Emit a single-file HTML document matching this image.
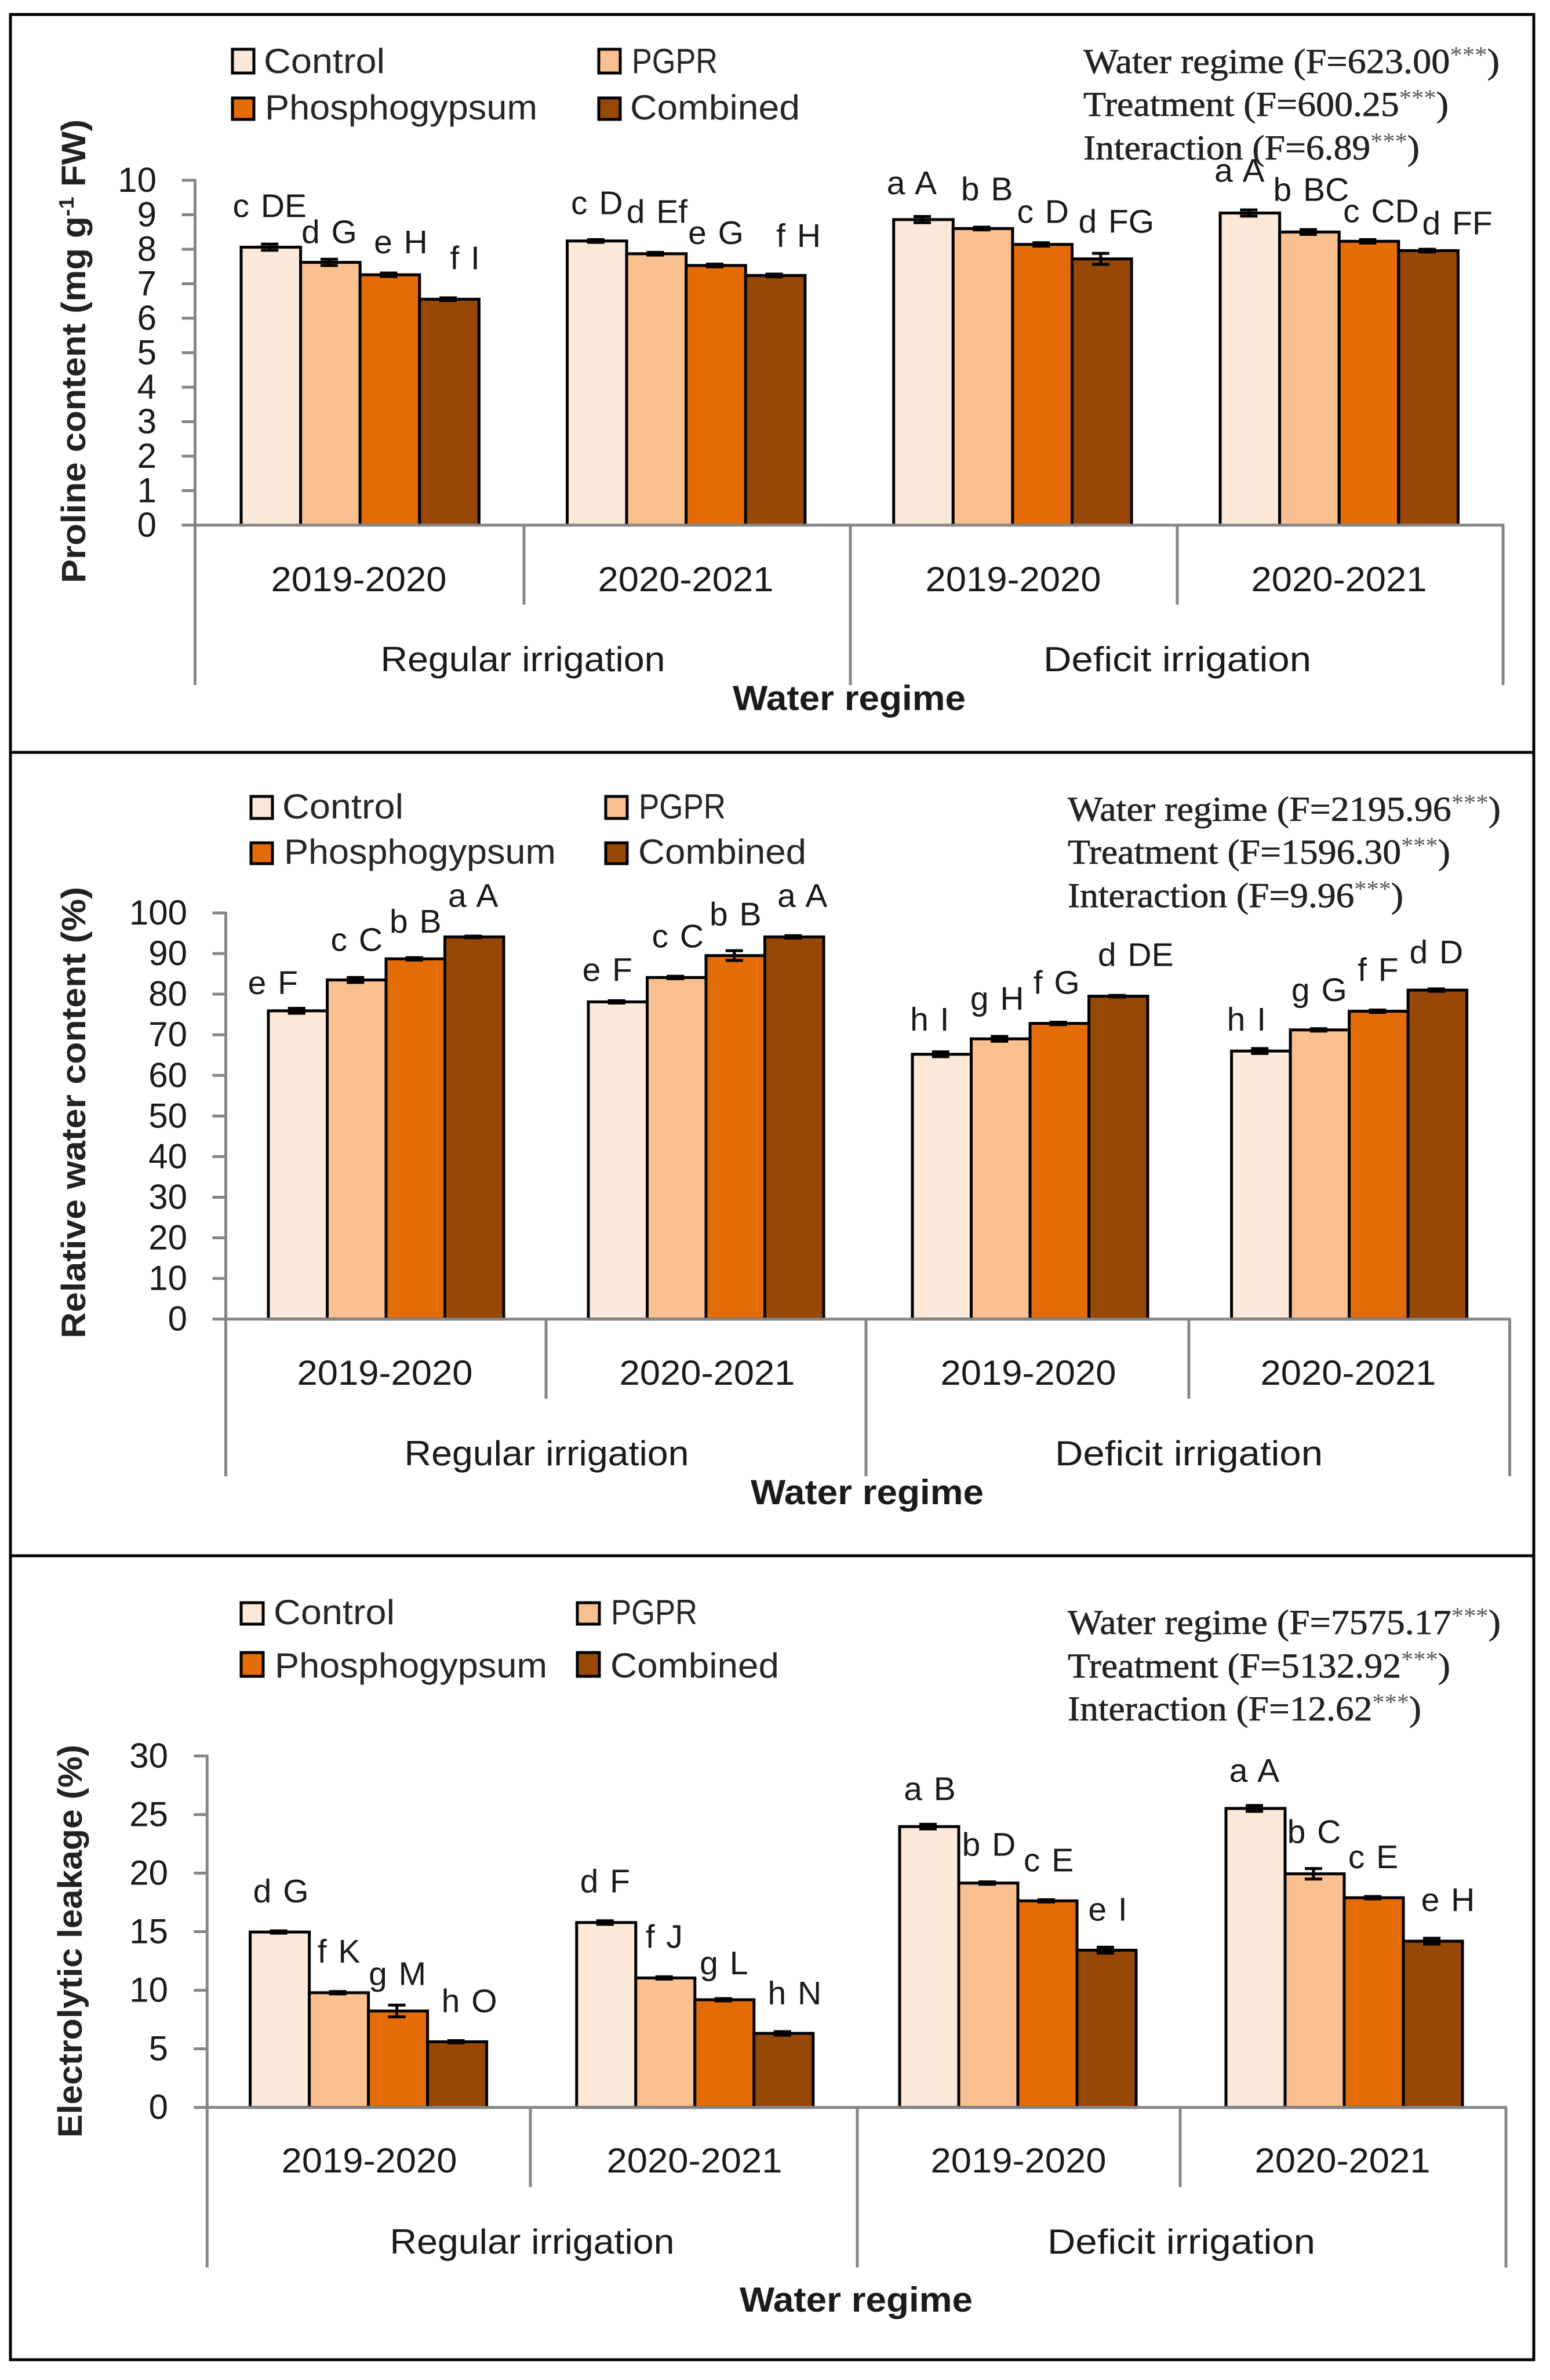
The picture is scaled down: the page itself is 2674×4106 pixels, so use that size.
<!DOCTYPE html>
<html lang="en">
<head>
<meta charset="utf-8">
<title>Proline content, relative water content and electrolytic leakage</title>
<style>
html,body{margin:0;padding:0;background:#fff;}
svg{display:block;}
text{font-family:"Liberation Sans",sans-serif;fill:#1a1a1a;}
.serif{font-family:"Liberation Serif",serif;font-size:60px;fill:#222;stroke:#222;stroke-width:0.7px;}
.sup{font-size:40px;fill:#555;stroke:none;}
.leg{font-size:60px;fill:#262626;}
.cat{font-size:60px;}
.ttl{font-size:60px;font-weight:bold;}
.ytl{font-size:58px;font-weight:bold;fill:#222;}
</style>
</head>
<body>
<svg id="figure" xmlns="http://www.w3.org/2000/svg" width="2674" height="4106" viewBox="0 0 2674 4106">
<rect x="0" y="0" width="2674" height="4106" fill="#fff"/>
<rect x="18" y="25" width="2628" height="4046" fill="none" stroke="#000" stroke-width="5"/>
<line x1="18" x2="2646" y1="1298" y2="1298" stroke="#000" stroke-width="5"/>
<line x1="18" x2="2646" y1="2684" y2="2684" stroke="#000" stroke-width="5"/>

<!-- Panel 1 -->
<g>
<g>
<rect x="401" y="85" width="37" height="41" fill="#FDE9D9" stroke="#000" stroke-width="5"/>
<text class="leg" x="455" y="126" textLength="209" lengthAdjust="spacingAndGlyphs">Control</text>
<rect x="1033" y="85" width="37" height="41" fill="#FAC090" stroke="#000" stroke-width="5"/>
<text class="leg" x="1090" y="126" textLength="148" lengthAdjust="spacingAndGlyphs">PGPR</text>
<rect x="401" y="169" width="37" height="37" fill="#E36C09" stroke="#000" stroke-width="5"/>
<text class="leg" x="457" y="206" textLength="470" lengthAdjust="spacingAndGlyphs">Phosphogypsum</text>
<rect x="1033" y="169" width="37" height="37" fill="#974806" stroke="#000" stroke-width="5"/>
<text class="leg" x="1087" y="206" textLength="293" lengthAdjust="spacingAndGlyphs">Combined</text>
</g>
<g>
<text class="serif" x="1869" y="126" textLength="718" lengthAdjust="spacingAndGlyphs">Water regime (F=623.00<tspan class="sup" dy="-18">***</tspan><tspan dy="18">)</tspan></text>
<text class="serif" x="1869" y="200" textLength="630" lengthAdjust="spacingAndGlyphs">Treatment (F=600.25<tspan class="sup" dy="-18">***</tspan><tspan dy="18">)</tspan></text>
<text class="serif" x="1869" y="275" textLength="580" lengthAdjust="spacingAndGlyphs">Interaction (F=6.89<tspan class="sup" dy="-18">***</tspan><tspan dy="18">)</tspan></text>
</g>
<text class="ytl" transform="translate(147,1006) rotate(-90)" x="0" y="0" textLength="800" lengthAdjust="spacingAndGlyphs">Proline content (mg g<tspan font-size="36" dy="-20">-1</tspan><tspan dy="20"> FW)</tspan></text>
<text class="cat" text-anchor="middle" x="619" y="1020" textLength="303" lengthAdjust="spacingAndGlyphs">2019-2020</text>
<text class="cat" text-anchor="middle" x="1183" y="1020" textLength="303" lengthAdjust="spacingAndGlyphs">2020-2021</text>
<text class="cat" text-anchor="middle" x="1748" y="1020" textLength="303" lengthAdjust="spacingAndGlyphs">2019-2020</text>
<text class="cat" text-anchor="middle" x="2310" y="1020" textLength="303" lengthAdjust="spacingAndGlyphs">2020-2021</text>
<text class="cat" text-anchor="middle" x="902" y="1158" textLength="491" lengthAdjust="spacingAndGlyphs">Regular irrigation</text>
<text class="cat" text-anchor="middle" x="2031" y="1158" textLength="462" lengthAdjust="spacingAndGlyphs">Deficit irrigation</text>
<text class="ttl" text-anchor="middle" x="1465" y="1225" textLength="402" lengthAdjust="spacingAndGlyphs">Water regime</text>
<g id="chart-proline"></g>
</g>

<!-- Panel 2 -->
<g>
<g>
<rect x="433" y="1374" width="37" height="38" fill="#FDE9D9" stroke="#000" stroke-width="5"/>
<text class="leg" x="487" y="1412" textLength="209" lengthAdjust="spacingAndGlyphs">Control</text>
<rect x="1045" y="1374" width="37" height="38" fill="#FAC090" stroke="#000" stroke-width="5"/>
<text class="leg" x="1102" y="1412" textLength="150" lengthAdjust="spacingAndGlyphs">PGPR</text>
<rect x="433" y="1454" width="37" height="36" fill="#E36C09" stroke="#000" stroke-width="5"/>
<text class="leg" x="490" y="1490" textLength="469" lengthAdjust="spacingAndGlyphs">Phosphogypsum</text>
<rect x="1045" y="1454" width="37" height="36" fill="#974806" stroke="#000" stroke-width="5"/>
<text class="leg" x="1101" y="1490" textLength="290" lengthAdjust="spacingAndGlyphs">Combined</text>
</g>
<g>
<text class="serif" x="1842" y="1416" textLength="747" lengthAdjust="spacingAndGlyphs">Water regime (F=2195.96<tspan class="sup" dy="-18">***</tspan><tspan dy="18">)</tspan></text>
<text class="serif" x="1842" y="1490" textLength="660" lengthAdjust="spacingAndGlyphs">Treatment (F=1596.30<tspan class="sup" dy="-18">***</tspan><tspan dy="18">)</tspan></text>
<text class="serif" x="1842" y="1565" textLength="579" lengthAdjust="spacingAndGlyphs">Interaction (F=9.96<tspan class="sup" dy="-18">***</tspan><tspan dy="18">)</tspan></text>
</g>
<text class="ytl" transform="translate(147,2309) rotate(-90)" x="0" y="0" textLength="779" lengthAdjust="spacingAndGlyphs">Relative water content (%)</text>
<text class="cat" text-anchor="middle" x="664" y="2389" textLength="303" lengthAdjust="spacingAndGlyphs">2019-2020</text>
<text class="cat" text-anchor="middle" x="1220" y="2389" textLength="303" lengthAdjust="spacingAndGlyphs">2020-2021</text>
<text class="cat" text-anchor="middle" x="1774" y="2389" textLength="303" lengthAdjust="spacingAndGlyphs">2019-2020</text>
<text class="cat" text-anchor="middle" x="2326" y="2389" textLength="303" lengthAdjust="spacingAndGlyphs">2020-2021</text>
<text class="cat" text-anchor="middle" x="943" y="2528" textLength="491" lengthAdjust="spacingAndGlyphs">Regular irrigation</text>
<text class="cat" text-anchor="middle" x="2051" y="2528" textLength="462" lengthAdjust="spacingAndGlyphs">Deficit irrigation</text>
<text class="ttl" text-anchor="middle" x="1496" y="2595" textLength="402" lengthAdjust="spacingAndGlyphs">Water regime</text>
<g id="chart-water"></g>
</g>

<!-- Panel 3 -->
<g>
<g>
<rect x="416" y="2765" width="38" height="37" fill="#FDE9D9" stroke="#000" stroke-width="5"/>
<text class="leg" x="472" y="2802" textLength="209" lengthAdjust="spacingAndGlyphs">Control</text>
<rect x="996" y="2765" width="38" height="37" fill="#FAC090" stroke="#000" stroke-width="5"/>
<text class="leg" x="1054" y="2802" textLength="149" lengthAdjust="spacingAndGlyphs">PGPR</text>
<rect x="416" y="2851" width="38" height="41" fill="#E36C09" stroke="#000" stroke-width="5"/>
<text class="leg" x="474" y="2894" textLength="470" lengthAdjust="spacingAndGlyphs">Phosphogypsum</text>
<rect x="996" y="2851" width="38" height="41" fill="#974806" stroke="#000" stroke-width="5"/>
<text class="leg" x="1053" y="2894" textLength="291" lengthAdjust="spacingAndGlyphs">Combined</text>
</g>
<g>
<text class="serif" x="1842" y="2819" textLength="747" lengthAdjust="spacingAndGlyphs">Water regime (F=7575.17<tspan class="sup" dy="-18">***</tspan><tspan dy="18">)</tspan></text>
<text class="serif" x="1842" y="2894" textLength="660" lengthAdjust="spacingAndGlyphs">Treatment (F=5132.92<tspan class="sup" dy="-18">***</tspan><tspan dy="18">)</tspan></text>
<text class="serif" x="1842" y="2968" textLength="610" lengthAdjust="spacingAndGlyphs">Interaction (F=12.62<tspan class="sup" dy="-18">***</tspan><tspan dy="18">)</tspan></text>
</g>
<text class="ytl" transform="translate(141,3688) rotate(-90)" x="0" y="0" textLength="678" lengthAdjust="spacingAndGlyphs">Electrolytic leakage (%)</text>
<text class="cat" text-anchor="middle" x="637" y="3748" textLength="303" lengthAdjust="spacingAndGlyphs">2019-2020</text>
<text class="cat" text-anchor="middle" x="1198" y="3748" textLength="303" lengthAdjust="spacingAndGlyphs">2020-2021</text>
<text class="cat" text-anchor="middle" x="1757" y="3748" textLength="303" lengthAdjust="spacingAndGlyphs">2019-2020</text>
<text class="cat" text-anchor="middle" x="2316" y="3748" textLength="303" lengthAdjust="spacingAndGlyphs">2020-2021</text>
<text class="cat" text-anchor="middle" x="918" y="3888" textLength="491" lengthAdjust="spacingAndGlyphs">Regular irrigation</text>
<text class="cat" text-anchor="middle" x="2038" y="3888" textLength="462" lengthAdjust="spacingAndGlyphs">Deficit irrigation</text>
<text class="ttl" text-anchor="middle" x="1477" y="3988" textLength="402" lengthAdjust="spacingAndGlyphs">Water regime</text>
<g id="chart-leakage"></g>
</g>
</svg>

<script>
// Series order: regular 2019-2020, regular 2020-2021, deficit 2019-2020, deficit 2020-2021
const treatments = ['control', 'pgpr', 'phosphogypsum', 'combined'];

// Proline content
const prolineTicks = [0, 1, 2, 3, 4, 5, 6, 7, 8, 9, 10];
const prolineControl = [8.06, 8.24, 8.86, 9.05];
const prolinePgpr = [7.62, 7.87, 8.60, 8.50];
const prolinePhospho = [7.26, 7.53, 8.14, 8.23];
const prolineCombined = [6.55, 7.24, 7.72, 7.96];
const prolineControlErr = [0.09, 0.04, 0.09, 0.09];
const prolinePgprErr = [0.09, 0.04, 0.04, 0.07];
const prolinePhosphoErr = [0.05, 0.04, 0.05, 0.05];
const prolineCombinedErr = [0.04, 0.04, 0.16, 0.04];
const prolineControlLabels = ['c DE', 'c D', 'a A', 'a A'];
const prolinePgprLabels = ['d G', 'd Ef', 'b B', 'b BC'];
const prolinePhosphoLabels = ['e H', 'e G', 'c D', 'c CD'];
const prolineCombinedLabels = ['f I', 'f H', 'd FG', 'd FF'];

// Relative water content
const waterTicks = [0, 10, 20, 30, 40, 50, 60, 70, 80, 90, 100];
const waterControl = [75.9, 78.1, 65.2, 66.0];
const waterPgpr = [83.5, 84.1, 69.0, 71.2];
const waterPhospho = [88.7, 89.5, 72.8, 75.8];
const waterCombined = [94.1, 94.1, 79.5, 81.0];
const waterControlErr = [0.6, 0.3, 0.6, 0.6];
const waterPgprErr = [0.6, 0.3, 0.6, 0.3];
const waterPhosphoErr = [0.3, 1.2, 0.3, 0.3];
const waterCombinedErr = [0.2, 0.3, 0.2, 0.3];
const waterControlLabels = ['e F', 'e F', 'h I', 'h I'];
const waterPgprLabels = ['c C', 'c C', 'g H', 'g G'];
const waterPhosphoLabels = ['b B', 'b B', 'f G', 'f F'];
const waterCombinedLabels = ['a A', 'a A', 'd DE', 'd D'];

// Electrolytic leakage
const leakageTicks = [0, 5, 10, 15, 20, 25, 30];
const leakageControl = [14.97, 15.78, 23.97, 25.52];
const leakagePgpr = [9.79, 11.05, 19.15, 19.94];
const leakagePhospho = [8.23, 9.19, 17.63, 17.90];
const leakageCombined = [5.60, 6.32, 13.42, 14.19];
const leakageControlErr = [0.10, 0.15, 0.20, 0.25];
const leakagePgprErr = [0.10, 0.10, 0.10, 0.45];
const leakagePhosphoErr = [0.50, 0.10, 0.10, 0.10];
const leakageCombinedErr = [0.10, 0.15, 0.25, 0.25];
const leakageControlLabels = ['d G', 'd F', 'a B', 'a A'];
const leakagePgprLabels = ['f K', 'f J', 'b D', 'b C'];
const leakagePhosphoLabels = ['g M', 'g L', 'c E', 'c E'];
const leakageCombinedLabels = ['h O', 'h N', 'e I', 'e H'];

const seriesFills = ['#FDE9D9', '#FAC090', '#E36C09', '#974806'];
const NS = 'http://www.w3.org/2000/svg';
const axisGrey = '#868686';

function make(tag, attrs) {
  const node = document.createElementNS(NS, tag);
  for (const k in attrs) node.setAttribute(k, attrs[k]);
  return node;
}

function drawChart(host, layout, ticks, values, errors, labels) {
  const g = document.getElementById(host);
  const yScale = v => layout.y0 - v * layout.pxPerUnit;

  // bars first, axes over them
  for (let s = 0; s < values.length; s++) {
    for (let c = 0; c < values[s].length; c++) {
      const left = layout.groupStarts[c] + s * layout.barWidth;
      const top = yScale(values[s][c]);
      const bar = make('rect', {x: left, y: top, width: layout.barWidth, height: layout.y0 - top, fill: seriesFills[s], stroke: '#000', 'stroke-width': 5});
      
      
      g.appendChild(bar);
    }
  }
  for (let s = 0; s < values.length; s++) {
    for (let c = 0; c < values[s].length; c++) {
      const cx = layout.groupStarts[c] + (s + 0.5) * layout.barWidth - 2;
      const hi = yScale(values[s][c] + errors[s][c]);
      const lo = yScale(values[s][c] - errors[s][c]);
      const err = make('path', {d: 'M' + (cx - 15) + ' ' + hi + 'H' + (cx + 15) + 'M' + cx + ' ' + hi + 'V' + lo + 'M' + (cx - 15) + ' ' + lo + 'H' + (cx + 15), fill: 'none', stroke: '#000', 'stroke-width': 5});
      
      
      g.appendChild(err);

      const nudge = layout.labelNudges[c][s];
      const letters = make('text', {x: layout.groupStarts[c] + (s + 0.5) * layout.barWidth + nudge[0], y: yScale(values[s][c]) - nudge[1], 'text-anchor': 'middle', 'font-size': 57, 'word-spacing': 4, fill: '#111'});
      letters.textContent = labels[s][c];
      
      
      g.appendChild(letters);
    }
  }

  const yAxis = make('line', {x1: layout.x0, x2: layout.x0, y1: yScale(ticks[ticks.length - 1]) - 2, y2: layout.y0, stroke: axisGrey, 'stroke-width': 5});
  
  
  g.appendChild(yAxis);

  for (const t of ticks) {
    const mark = make('line', {x1: layout.x0 - 23, x2: layout.x0, y1: yScale(t), y2: yScale(t), stroke: axisGrey, 'stroke-width': 5});
    
    
    g.appendChild(mark);
    const tickText = make('text', {x: layout.tickRight, y: yScale(t) + 20, 'text-anchor': 'end', 'font-size': 60, fill: '#262626'});
    tickText.textContent = String(t);
    
    
    g.appendChild(tickText);
  }

  const xAxis = make('line', {x1: layout.x0, x2: layout.xR + 2, y1: layout.y0, y2: layout.y0, stroke: axisGrey, 'stroke-width': 5});
  
  
  g.appendChild(xAxis);

  for (const x of layout.seasonSeps) {
    const sep = make('line', {x1: x, x2: x, y1: layout.y0, y2: layout.tierBreak, stroke: axisGrey, 'stroke-width': 5});
    
    
    g.appendChild(sep);
  }
  for (const x of layout.regimeSeps) {
    const sep = make('line', {x1: x, x2: x, y1: layout.y0, y2: layout.tierEnd, stroke: axisGrey, 'stroke-width': 5});
    
    
    g.appendChild(sep);
  }
}

drawChart('chart-proline', {
  x0: 336.5, xR: 2593, y0: 906, pxPerUnit: 59.5, tickRight: 270,
  tierBreak: 1043, tierEnd: 1182,
  seasonSeps: [904, 2031], regimeSeps: [336.5, 1467, 2593],
  groupStarts: [416, 978.5, 1541.7, 2105], barWidth: 102.6,
  labelNudges: [
    [[-2, 52], [-2, 33], [19, 37], [27, 52]],
    [[0, 46], [1, 53], [0, 37], [40, 49]],
    [[-20, 44], [7, 49], [1, 37], [25, 45]],
    [[-18, 54], [3, 54], [21, 33], [50, 28]]
  ]
}, prolineTicks,
  [prolineControl, prolinePgpr, prolinePhospho, prolineCombined],
  [prolineControlErr, prolinePgprErr, prolinePhosphoErr, prolineCombinedErr],
  [prolineControlLabels, prolinePgprLabels, prolinePhosphoLabels, prolineCombinedLabels]);

drawChart('chart-water', {
  x0: 389.5, xR: 2604.5, y0: 2275.7, pxPerUnit: 7.007, tickRight: 323,
  tierBreak: 2413, tierEnd: 2547,
  seasonSeps: [942, 2051], regimeSeps: [389.5, 1494, 2604.5],
  groupStarts: [463, 1015, 1574, 2124.6], barWidth: 101.5,
  labelNudges: [
    [[-43, 29], [0, 50], [0, 45], [-2, 52]],
    [[-18, 36], [2, 52], [0, 52], [14, 52]],
    [[-21, 41], [-6, 50], [-5, 51], [30, 52]],
    [[-25, 35], [-1, 50], [-1, 52], [-2, 46]]
  ]
}, waterTicks,
  [waterControl, waterPgpr, waterPhospho, waterCombined],
  [waterControlErr, waterPgprErr, waterPhosphoErr, waterCombinedErr],
  [waterControlLabels, waterPgprLabels, waterPhosphoLabels, waterCombinedLabels]);

drawChart('chart-leakage', {
  x0: 357.3, xR: 2598, y0: 3635.7, pxPerUnit: 20.21, tickRight: 290,
  tierBreak: 3773, tierEnd: 3912,
  seasonSeps: [915, 2036], regimeSeps: [357.3, 1479, 2598],
  groupStarts: [431.6, 994.8, 1552, 2115], barWidth: 102,
  labelNudges: [
    [[2, 51], [0, 52], [-1, 45], [21, 51]],
    [[-2, 52], [-2, 52], [-1, 44], [19, 50]],
    [[1, 46], [1, 47], [2, 51], [2, 51]],
    [[-2, 46], [-1, 53], [-1, 51], [26, 52]]
  ]
}, leakageTicks,
  [leakageControl, leakagePgpr, leakagePhospho, leakageCombined],
  [leakageControlErr, leakagePgprErr, leakagePhosphoErr, leakageCombinedErr],
  [leakageControlLabels, leakagePgprLabels, leakagePhosphoLabels, leakageCombinedLabels]);
</script>
</body>
</html>
